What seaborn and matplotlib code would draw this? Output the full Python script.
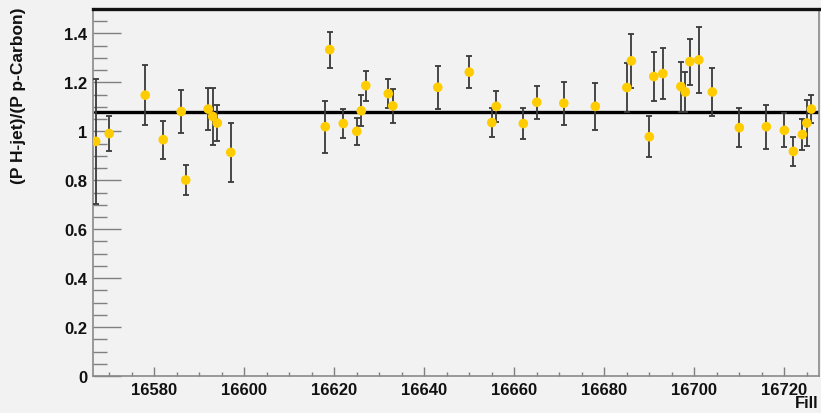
import matplotlib
matplotlib.use("Agg")
import matplotlib.pyplot as plt
from matplotlib.ticker import MultipleLocator, FixedLocator
import numpy as np
import pandas as pd
import seaborn as sns

# Polarization ratio per RHIC fill: H-jet polarimeter over p-Carbon polarimeter
fills = [16567, 16570, 16578, 16582, 16586, 16587, 16592, 16593, 16594, 16597,
         16618, 16619, 16622, 16625, 16626, 16627, 16632, 16633, 16643, 16650,
         16655, 16656, 16662, 16665, 16671, 16678, 16685, 16686, 16690, 16691,
         16693, 16697, 16698, 16699, 16701, 16704, 16710, 16716, 16720, 16722,
         16724, 16725, 16726]
ratio = [0.959, 0.991, 1.148, 0.966, 1.081, 0.801, 1.091, 1.061, 1.034, 0.914,
         1.019, 1.334, 1.032, 1.000, 1.084, 1.187, 1.154, 1.104, 1.180, 1.242,
         1.036, 1.102, 1.032, 1.119, 1.115, 1.102, 1.179, 1.288, 0.978, 1.224,
         1.236, 1.183, 1.161, 1.285, 1.292, 1.161, 1.015, 1.019, 1.004, 0.918,
         0.987, 1.034, 1.091]
ratio_err = [0.255, 0.072, 0.123, 0.078, 0.087, 0.060, 0.085, 0.118, 0.075, 0.121,
             0.107, 0.074, 0.061, 0.055, 0.063, 0.061, 0.059, 0.071, 0.088, 0.066,
             0.060, 0.062, 0.062, 0.067, 0.088, 0.096, 0.100, 0.111, 0.084, 0.100,
             0.104, 0.102, 0.083, 0.094, 0.134, 0.099, 0.081, 0.090, 0.070, 0.058,
             0.065, 0.094, 0.058]
fit_value = 1.077

df = pd.DataFrame({"Fill": fills, "ratio": ratio, "err": ratio_err})

sns.set_theme(style="ticks")
plt.rcParams["font.family"] = ["Liberation Sans", "DejaVu Sans"]
plt.rcParams["font.weight"] = "bold"

bg = "#f2f2f2"
fig = plt.figure(figsize=(8.21, 4.14), dpi=100, facecolor=bg)
ax = fig.add_axes([93 / 821, 37 / 414, 726 / 821, 367 / 414])
ax.set_facecolor(bg)

ax.set_xlim(16566.4, 16727.7)
ax.set_ylim(0, 1.5)

# constant fit
ax.plot([16566.9, 16727.7], [fit_value, fit_value], color="black", lw=2.4, zorder=2)

ax.errorbar(df["Fill"], df["ratio"], yerr=df["err"], fmt="none",
            ecolor="#3a3a3a", elinewidth=1.3, capsize=2.2, capthick=1.3, zorder=3)
sns.scatterplot(data=df, x="Fill", y="ratio", ax=ax, color="#ffcc00",
                s=48, edgecolor="none", zorder=4, legend=False)

# frame
for side in ("left", "bottom", "right"):
    ax.spines[side].set_color("#8a8a8a")
    ax.spines[side].set_linewidth(1.2)
ax.spines["top"].set_color("#111111")
ax.spines["top"].set_linewidth(2.4)

ax.xaxis.set_major_locator(MultipleLocator(20))
ax.xaxis.set_minor_locator(MultipleLocator(5))
ax.yaxis.set_major_locator(FixedLocator([0, 0.2, 0.4, 0.6, 0.8, 1.0, 1.2, 1.4]))
ax.yaxis.set_minor_locator(MultipleLocator(0.05))
ax.yaxis.set_major_formatter(matplotlib.ticker.FuncFormatter(
    lambda v, p: "0" if v == 0 else ("1" if abs(v - 1) < 1e-9 else f"{v:.1f}")))

ax.tick_params(axis="both", which="both", direction="in", color="#808080",
               labelsize=12, labelcolor="#111111")
ax.tick_params(axis="y", which="major", length=20, width=1.0, pad=4)
ax.tick_params(axis="y", which="minor", length=10, width=1.0)
ax.tick_params(axis="x", which="major", length=6.5, width=1.0, pad=4)
ax.tick_params(axis="x", which="minor", length=3, width=1.0)
ax.tick_params(top=False, right=False, which="both")
for lab in ax.get_xticklabels() + ax.get_yticklabels():
    lab.set_fontweight("bold")

ax.set_xlabel("")
ax.set_ylabel("")
fig.text(18 / 821, 1 - 8 / 414, "(P H-jet)/(P p-Carbon)", rotation=90,
         ha="center", va="top", fontsize=12.5, fontweight="bold", color="#111111")
fig.text(818 / 821, 10 / 414, "Fill", ha="right", va="center",
         fontsize=12, fontweight="bold", color="#111111")

fig.savefig("out.png", dpi=100, facecolor=bg)
